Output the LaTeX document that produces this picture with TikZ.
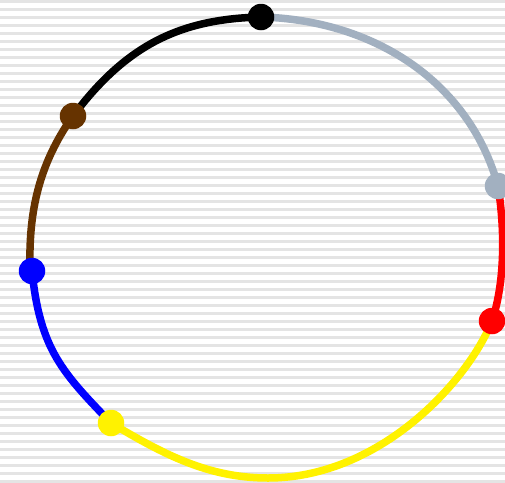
\documentclass[tikz,border=0pt]{standalone}
\definecolor{slate}{RGB}{162,176,192}
\definecolor{brownc}{RGB}{102,51,0}
\definecolor{stripec}{RGB}{228,228,228}
\begin{document}
\begin{tikzpicture}[x=1pt,y=-1pt,
  seg/.style={line width=7.5pt},
  dot/.style={circle,inner sep=0pt,minimum size=26.5pt,draw=none},
  stripe/.style={stripec,line width=2.4pt}]
\useasboundingbox (0,0) rectangle (505,482);
\fill[white] (0,0) rectangle (505,482);
\foreach \k in {0,...,60} \draw[stripe] (0,1.3+8*\k) -- (505,1.3+8*\k);
\coordinate (pK) at (261,17);
\coordinate (pG) at (498,186);
\coordinate (pR) at (492,321);
\coordinate (pY) at (111,423);
\coordinate (pU) at (32,271);
\coordinate (pB) at (73,116);
\coordinate (bot) at (268,478);
\draw[seg,slate] (pK) .. controls (373,20) and (469,81) .. (pG);
\draw[seg,red] (pG) .. controls (505,230) and (505,282) .. (pR);
\draw[seg,yellow] (pR) .. controls (468,381) and (380,478) .. (bot)
  .. controls (208,478) and (163,454) .. (pY);
\draw[seg,blue] (pU) .. controls (40,350) and (63,373) .. (pY);
\draw[seg,brownc] ([xshift=-2pt]pU) .. controls (29,225) and (33,172) .. (pB);
\draw[seg,black] (pB) .. controls (127,44) and (181,19) .. (pK);
\node[dot,fill=black] (dK) at (pK) {};
\node[dot,fill=slate] (dG) at (pG) {};
\node[dot,fill=red] (dR) at (pR) {};
\node[dot,fill=yellow] (dY) at (pY) {};
\node[dot,fill=blue] (dU) at (pU) {};
\node[dot,fill=brownc] (dB) at (pB) {};
\end{tikzpicture}
\end{document}
